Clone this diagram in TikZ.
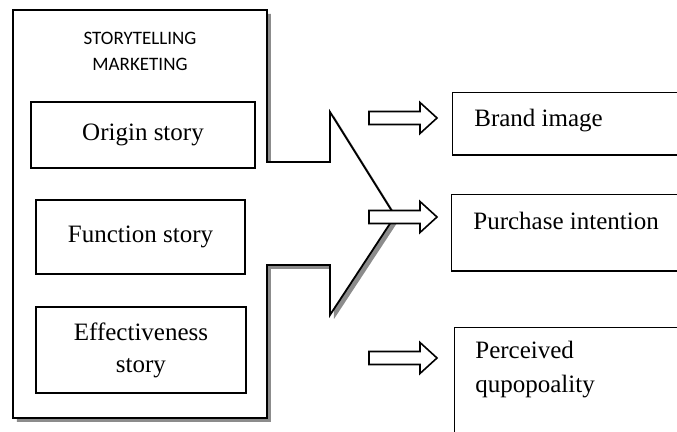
\documentclass[tikz,border=0pt]{standalone}
\usepackage{fontspec}
\setmainfont{Liberation Serif}
\newfontfamily\titlefont{Carlito}
\definecolor{shadowgray}{HTML}{8C8C8C}
\newcommand{\blockarrow}[1]{%
  \draw[blockarrowstyle] (369,{#1-6.5}) -- (420,{#1-6.5}) -- (420,{#1-15.5}) -- (437,#1)
    -- (420,{#1+15.5}) -- (420,{#1+6.5}) -- (369,{#1+6.5}) -- cycle;}
\begin{document}
\begin{tikzpicture}[x=0.5pt,y=-0.5pt,line join=miter,
  outline/.style={draw=black,line width=0.9pt,fill=white},
  storybox/.style={draw=black,line width=0.9pt,fill=white,inner sep=0pt,align=center,
    font=\fontsize{12.5}{16}\selectfont},
  resulttext/.style={inner sep=0pt,align=left,anchor=west,font=\fontsize{12.5}{17}\selectfont},
  resultbox/.style={inner sep=0pt},
  resultline/.style={draw=black,line width=0.9pt},
  blockarrowstyle/.style={draw=black,line width=0.8pt,fill=white}]
\useasboundingbox (0,0) rectangle (677,432);
\clip (0,0) rectangle (677,432);
% big container + arrow shape with shadow
\fill[shadowgray,shift={(4,4)}] (13,10) -- (267,10) -- (267,162) -- (330,162) -- (330,112)
  -- (395,216) -- (330,315) -- (330,265) -- (267,265) -- (267,418) -- (13,418) -- cycle;
\draw[outline] (13,10) -- (267,10) -- (267,162) -- (330,162) -- (330,112)
  -- (395,216) -- (330,315) -- (330,265) -- (267,265) -- (267,418) -- (13,418) -- cycle;
% title
\node[inner sep=0pt,align=center,font=\titlefont\fontsize{9.5}{13}\selectfont] (title) at (140,51)
  {STORYTELLING\\MARKETING};
% story boxes
\node[storybox,minimum width=112pt,minimum height=33pt] (origin) at (143,135) {Origin story};
\node[storybox,minimum width=104.5pt,minimum height=37pt] (function) at (140.5,237) {Function story};
\node[storybox,minimum width=105pt,minimum height=43pt] (effect) at (141,350) {Effectiveness\\story};
% result boxes (open on the right edge)
\node[resultbox,minimum width=120pt,minimum height=31pt] (brand) at (573,124) {};
\draw[resultline] (brand.north east) -- (brand.north west) -- (brand.south west) -- (brand.south east);
\node[resultbox,minimum width=120pt,minimum height=38pt] (purchase) at (572,233) {};
\draw[resultline] (purchase.north east) -- (purchase.north west) -- (purchase.south west) -- (purchase.south east);
\node[resultbox,minimum width=120pt,minimum height=56pt] (perceived) at (575,384) {};
\draw[resultline] (perceived.north east) -- (perceived.north west) -- (perceived.south west);
\node[resulttext] (brandtext) at (474,121) {Brand image};
\node[resulttext] (purchasetext) at (473,221) {Purchase intention};
\node[resulttext] (perceivedtext) at (475,370) {Perceived\\qupopoality};
% block arrows
\blockarrow{118}
\blockarrow{217}
\blockarrow{358}
\end{tikzpicture}
\end{document}
